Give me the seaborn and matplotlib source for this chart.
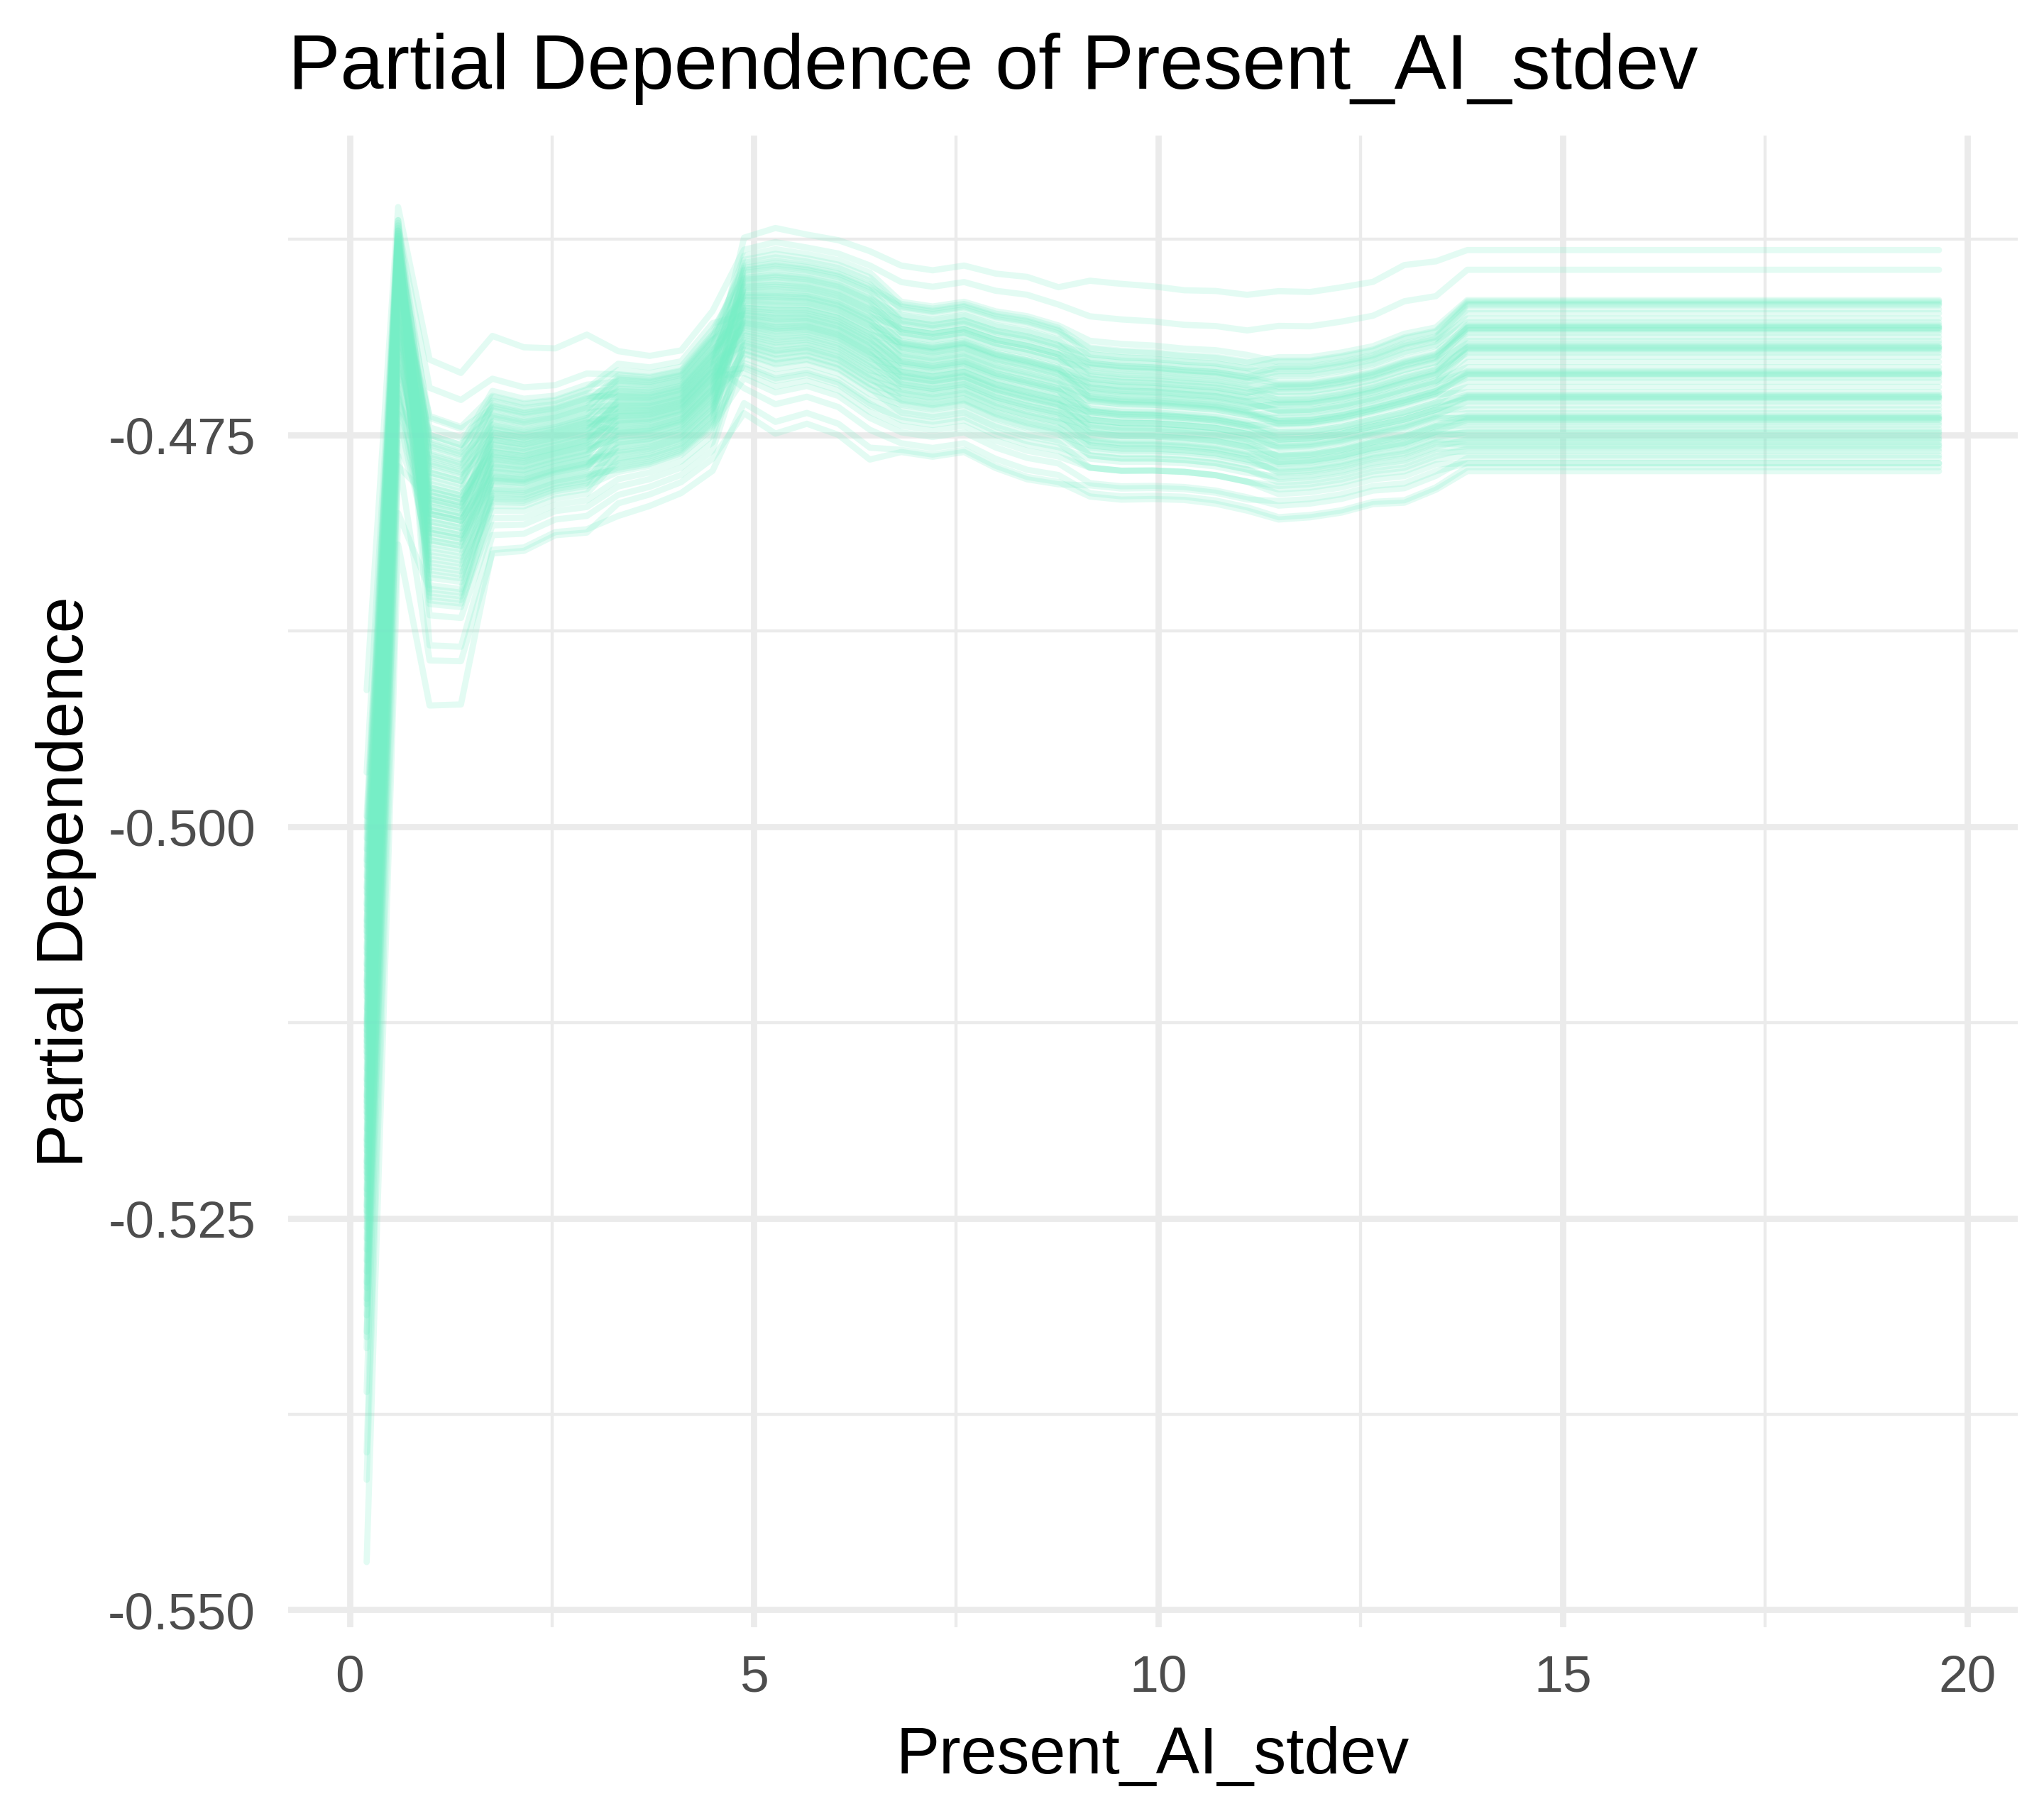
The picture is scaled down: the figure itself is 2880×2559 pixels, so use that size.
import numpy as np
import pandas as pd
import matplotlib
matplotlib.use("Agg")
import matplotlib.pyplot as plt
import seaborn as sns
from matplotlib.ticker import MultipleLocator, FormatStrFormatter

# --- grid of Present_AI_stdev values (51 points, as in pdp) ---
grid_x = [0.210, 0.599, 0.988, 1.376, 1.765, 2.154, 2.543, 2.932, 3.320, 3.709,
          4.098, 4.487, 4.876, 5.264, 5.653, 6.042, 6.431, 6.820, 7.208, 7.597,
          7.986, 8.375, 8.764, 9.152, 9.541, 9.930, 10.319, 10.708, 11.096, 11.485,
          11.874, 12.263, 12.652, 13.040, 13.429, 13.818, 14.207, 14.596, 14.984, 15.373,
          15.762, 16.151, 16.540, 16.928, 17.317, 17.706, 18.095, 18.484, 18.872, 19.261,
          19.650]

# top / bottom of the dense band of ICE curves at each grid point
band_hi = [-0.4990, -0.4613, -0.4738, -0.4745, -0.4722, -0.4727, -0.4725, -0.4718, -0.4708, -0.4710,
           -0.4706, -0.4682, -0.4637, -0.4633, -0.4636, -0.4640, -0.4648, -0.4663, -0.4666, -0.4663,
           -0.4669, -0.4672, -0.4678, -0.4690, -0.4692, -0.4693, -0.4695, -0.4696, -0.4699, -0.4699,
           -0.4699, -0.4696, -0.4692, -0.4684, -0.4680, -0.4664, -0.4664, -0.4664, -0.4664, -0.4664,
           -0.4664, -0.4664, -0.4664, -0.4664, -0.4664, -0.4664, -0.4664, -0.4664, -0.4664, -0.4664,
           -0.4664]
band_lo = [-0.5340, -0.4780, -0.4858, -0.4860, -0.4800, -0.4800, -0.4792, -0.4789, -0.4775, -0.4771,
           -0.4764, -0.4747, -0.4701, -0.4708, -0.4705, -0.4711, -0.4724, -0.4733, -0.4736, -0.4733,
           -0.4742, -0.4748, -0.4752, -0.4761, -0.4763, -0.4763, -0.4764, -0.4766, -0.4770, -0.4773,
           -0.4772, -0.4769, -0.4764, -0.4761, -0.4754, -0.4748, -0.4748, -0.4748, -0.4748, -0.4748,
           -0.4748, -0.4748, -0.4748, -0.4748, -0.4748, -0.4748, -0.4748, -0.4748, -0.4748, -0.4748,
           -0.4748]

# which stretch of the curve each grid point belongs to
segment = (["start"] + ["peak"] + ["dip"] * 2 + ["left_a"] * 4 + ["left_b"] * 4
           + ["mid_a"] * 5 + ["mid_b"] * 6 + ["mid_c"] * 6 + ["mid_d"] * 6 + ["right"] * 16)

# where each of the 72 curves sits inside the band on each stretch (0 = bottom, 1 = top)
pos_start = [0.62, 1.22, 0.91, 0.35, 0.78, 0.10, 0.55, 0.97, 0.28, 0.66,
             0.44, 0.85, 0.18, 0.71, 0.50, 1.07, 0.38, 0.60, 0.05, 0.82,
             0.47, 0.24, 0.93, 0.57, 0.31, 0.75, 0.13, 0.68, 0.42, 0.88,
             0.20, 0.53, 0.79, 0.02, 0.64, 0.36, 0.95, 0.48, 0.16, 0.72,
             0.40, 0.86, 0.27, 0.58, -0.06, 0.69, 0.33, 0.80, 0.08, 0.51,
             0.45, 0.22, 0.90, 0.61, 0.14, 0.74, 0.39, 0.99, 0.26, 0.56,
             -0.17, 0.83, 0.30, 0.67, 0.11, 0.46, 0.77, -0.22, 0.59, 0.34,
             0.04, -0.37]
pos_peak = [0.80, 1.05, 0.98, 0.62, 0.93, 0.40, 0.88, 0.95, 0.55, 0.83,
            0.70, 0.96, 0.47, 0.90, 0.76, 1.00, 0.66, 0.86, 0.30, 0.92,
            0.74, 0.52, 0.97, 0.81, 0.60, 0.89, 0.36, 0.85, 0.68, 0.94,
            0.44, 0.79, 0.91, 0.22, 0.84, 0.63, 0.99, 0.72, 0.42, 0.87,
            0.65, 0.95, 0.50, 0.82, 0.15, 0.89, 0.58, 0.93, 0.26, 0.77,
            0.71, 0.48, 0.96, 0.84, 0.34, 0.90, 0.67, 1.00, 0.54, 0.80,
            0.06, 0.94, 0.57, 0.88, 0.32, 0.73, 0.91, -0.12, 0.83, 0.61,
            0.10, -0.24]
pos_dip = [0.62, 1.30, 1.15, 0.55, 0.85, 0.48, 0.99, 0.68, 0.36, 0.88,
           0.72, 0.78, 0.58, 0.62, 0.90, 0.42, 0.80, 0.46, 0.76, 0.30,
           0.64, 0.50, 0.94, 0.54, 0.24, 0.70, 0.32, 0.82, 0.52, 0.66,
           0.16, 0.84, 0.48, 0.50, 0.18, 0.74, 0.28, 1.00, 0.40, 0.34,
           0.60, 0.10, 0.58, 0.86, 0.44, 0.04, 0.70, 0.38, 0.26, 0.79,
           0.38, 0.52, 0.00, 0.56, 0.22, 0.48, 0.06, 0.75, 0.34, 0.14,
           0.56, 0.02, 0.90, 0.20, 0.44, -0.06, 0.40, 0.08, -0.22, 0.60,
           -0.30, -0.54]
pos_left_a = [0.50, 1.45, 1.10, 0.70, 0.92, 0.33, 0.86, 0.79, 0.25, 0.95,
              0.60, 0.88, 0.41, 0.52, 1.00, 0.30, 0.72, 0.56, 0.90, 0.20,
              0.75, 0.38, 0.84, 0.66, 0.12, 0.81, 0.44, 0.78, 0.47, 0.58,
              0.28, 0.73, 0.36, 0.62, 0.06, 0.68, 0.40, 0.96, 0.53, 0.22,
              0.57, 0.17, 0.48, 0.87, 0.31, 0.02, 0.64, 0.42, 0.14, 0.69,
              0.26, 0.60, 0.09, 0.66, 0.34, 0.37, 0.16, 0.63, 0.45, 0.11,
              0.46, -0.04, 0.80, 0.29, 0.50, -0.10, 0.27, 0.19, -0.18, 0.54,
              -0.33, -0.30]
pos_left_b = [0.60, 1.17, 0.95, 0.50, 0.82, 0.30, 0.90, 0.66, 0.42, 0.99,
              0.58, 0.76, 0.35, 0.70, 0.88, 0.22, 0.84, 0.46, 0.73, 0.15,
              0.62, 0.52, 0.94, 0.40, 0.27, 0.79, 0.33, 0.92, 0.56, 0.68,
              0.12, 0.86, 0.48, 0.64, 0.20, 0.75, 0.38, 1.05, 0.44, 0.31,
              0.69, 0.08, 0.59, 0.78, 0.25, 0.14, 0.72, 0.51, 0.28, 0.81,
              0.36, 0.63, 0.02, 0.55, 0.18, 0.47, 0.06, 0.74, 0.41, 0.10,
              0.57, -0.05, 0.89, 0.21, 0.53, -0.12, 0.39, 0.04, -0.20, 0.65,
              -0.28, -0.40]
pos_mid_a = [1.20, 1.08, 0.90, 0.72, 1.02, 0.65, 0.95, 0.88, 0.58, 0.80,
             0.98, 0.50, 0.85, 0.76, 0.45, 0.92, 0.68, 0.82, 0.40, 0.74,
             0.87, 0.35, 0.62, 0.79, 0.55, 0.30, 0.71, 0.60, 0.25, 0.66,
             0.52, 0.78, 0.20, 0.57, 0.48, 0.63, 0.16, 0.43, 0.70, 0.38,
             0.12, 0.54, 0.33, 0.47, 0.08, 0.42, 0.61, 0.28, 0.04, 0.36,
             0.50, 0.23, 0.00, 0.32, 0.44, 0.18, -0.05, 0.27, 0.39, 0.13,
             -0.10, 0.22, 0.34, 0.09, -0.15, 0.15, -0.08, -0.20, 0.05, -0.30,
             -0.55, -0.45]
pos_mid_b = [1.30, 1.15, 0.95, 0.80, 0.97, 0.74, 0.90, 0.92, 0.66, 0.84,
             0.93, 0.60, 0.79, 0.72, 0.55, 0.85, 0.72, 0.77, 0.49, 0.69,
             0.80, 0.43, 0.58, 0.72, 0.59, 0.38, 0.66, 0.55, 0.33, 0.61,
             0.47, 0.69, 0.28, 0.52, 0.43, 0.56, 0.22, 0.40, 0.60, 0.33,
             0.17, 0.46, 0.29, 0.41, 0.13, 0.35, 0.50, 0.24, 0.08, 0.30,
             0.41, 0.19, 0.03, 0.26, 0.34, 0.14, -0.02, 0.20, 0.29, 0.09,
             -0.08, 0.14, 0.22, 0.04, -0.16, 0.07, -0.11, -0.22, -0.04, -0.32,
             -0.40, -0.38]
pos_mid_c = [1.54, 1.22, 0.93, 0.88, 1.00, 0.80, 0.94, 0.85, 0.76, 0.79,
             0.88, 0.66, 0.83, 0.78, 0.62, 0.80, 0.66, 0.73, 0.58, 0.70,
             0.72, 0.52, 0.63, 0.68, 0.53, 0.46, 0.61, 0.57, 0.41, 0.55,
             0.50, 0.58, 0.36, 0.47, 0.46, 0.49, 0.29, 0.37, 0.48, 0.36,
             0.24, 0.39, 0.31, 0.34, 0.18, 0.29, 0.37, 0.25, 0.11, 0.24,
             0.29, 0.17, 0.06, 0.19, 0.22, 0.10, 0.01, 0.13, 0.17, 0.04,
             -0.06, 0.06, 0.09, -0.03, -0.14, -0.03, -0.14, -0.28, -0.14, -0.37,
             -0.30, -0.40]
pos_mid_d = [1.55, 1.25, 0.98, 0.95, 0.94, 0.90, 0.89, 0.88, 0.82, 0.86,
             0.83, 0.74, 0.77, 0.73, 0.68, 0.75, 0.71, 0.72, 0.62, 0.64,
             0.68, 0.58, 0.59, 0.61, 0.57, 0.50, 0.57, 0.52, 0.46, 0.52,
             0.45, 0.51, 0.41, 0.43, 0.41, 0.43, 0.33, 0.38, 0.40, 0.32,
             0.27, 0.33, 0.27, 0.29, 0.22, 0.24, 0.27, 0.21, 0.14, 0.19,
             0.20, 0.13, 0.08, 0.13, 0.12, 0.08, 0.03, 0.06, 0.07, 0.01,
             -0.05, -0.01, -0.02, -0.07, -0.13, -0.10, -0.16, -0.30, -0.20, -0.40,
             -0.26, -0.42]
pos_right = [1.38, 1.23, 1.00, 0.99, 0.98, 0.97, 0.96, 0.93, 0.90, 0.86,
             0.83, 0.81, 0.80, 0.79, 0.79, 0.78, 0.77, 0.75, 0.72, 0.69,
             0.67, 0.65, 0.64, 0.64, 0.63, 0.62, 0.60, 0.57, 0.53, 0.49,
             0.46, 0.45, 0.44, 0.44, 0.43, 0.41, 0.38, 0.34, 0.30, 0.28,
             0.27, 0.26, 0.26, 0.25, 0.23, 0.20, 0.17, 0.14, 0.12, 0.11,
             0.10, 0.10, 0.09, 0.07, 0.05, 0.02, 0.00, -0.01, -0.03, -0.05,
             -0.06, -0.08, -0.10, -0.11, -0.13, -0.15, -0.18, -0.20, -0.24, -0.27,
             -0.24, -0.30]

positions = {"start": pos_start, "peak": pos_peak, "dip": pos_dip,
             "left_a": pos_left_a, "left_b": pos_left_b,
             "mid_a": pos_mid_a, "mid_b": pos_mid_b, "mid_c": pos_mid_c,
             "mid_d": pos_mid_d, "right": pos_right}
n_lines = min(len(v) for v in positions.values())

# --- long-form table of all ICE curves ---
rows = []
for line_id in range(n_lines):
    for gx, hi, lo, seg in zip(grid_x, band_hi, band_lo, segment):
        q = positions[seg][line_id]
        rows.append((line_id, gx, lo + q * (hi - lo)))
ice = pd.DataFrame(rows, columns=["id", "Present_AI_stdev", "yhat"])

# --- plot ---
LINE_COLOR = "#76EEC6"   # aquamarine2
GRID_COLOR = "#EBEBEB"

sns.set_theme(style="white")
plt.rcParams["font.family"] = ["Liberation Sans", "DejaVu Sans"]
plt.rcParams["axes.unicode_minus"] = False

fig, ax = plt.subplots(figsize=(9.6, 8.5333), dpi=300)
fig.subplots_adjust(left=0.141, right=0.987, top=0.925, bottom=0.104)

sns.lineplot(data=ice, x="Present_AI_stdev", y="yhat", units="id", estimator=None,
             color=LINE_COLOR, alpha=0.2, linewidth=2.1, ax=ax, zorder=3)

ax.set_xlim(-0.76, 20.62)
ax.set_ylim(-0.5511, -0.4559)
ax.xaxis.set_major_locator(MultipleLocator(5))
ax.xaxis.set_minor_locator(MultipleLocator(2.5))
ax.yaxis.set_major_locator(MultipleLocator(0.025))
ax.yaxis.set_minor_locator(MultipleLocator(0.0125))
ax.yaxis.set_major_formatter(FormatStrFormatter("%.3f"))

ax.grid(which="major", color=GRID_COLOR, linewidth=2.1, zorder=0)
ax.grid(which="minor", color=GRID_COLOR, linewidth=1.05, zorder=0)
ax.set_axisbelow(True)
for s in ax.spines.values():
    s.set_visible(False)
ax.tick_params(which="both", length=0)
ax.tick_params(axis="x", labelsize=17.6, labelcolor="#4D4D4D", pad=9)
ax.tick_params(axis="y", labelsize=17.6, labelcolor="#4D4D4D", pad=11)

ax.set_xlabel("Present_AI_stdev", fontsize=22, color="black", labelpad=8)
ax.set_ylabel("Partial Dependence", fontsize=22, color="black", labelpad=4)
ax.set_title("Partial Dependence of Present_AI_stdev", fontsize=26.4, loc="left",
             color="black", pad=16)

fig.savefig("out.png", dpi=300, facecolor="white")
